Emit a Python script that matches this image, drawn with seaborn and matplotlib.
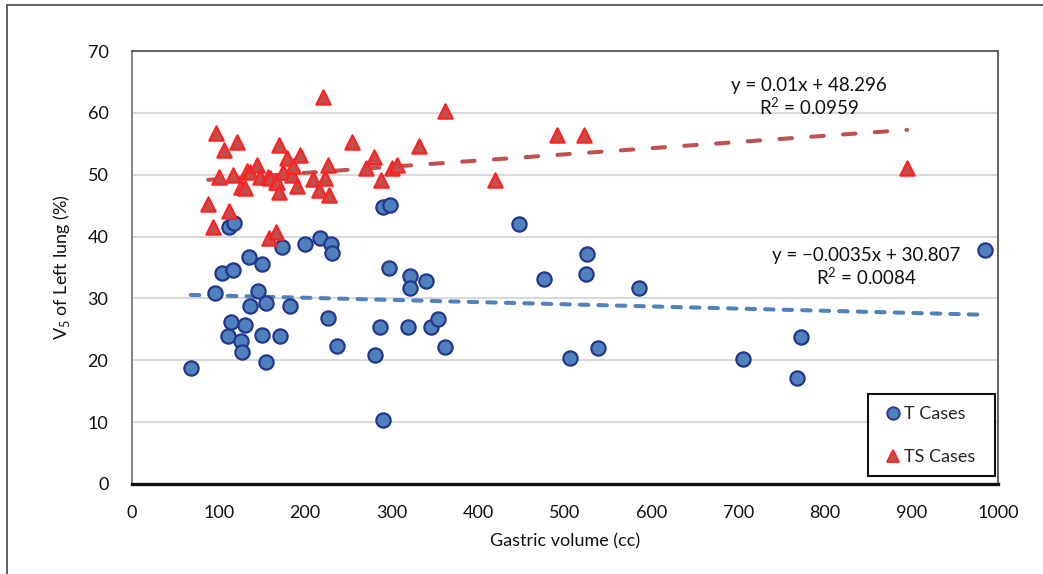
import numpy as np
import pandas as pd
import matplotlib
matplotlib.use("Agg")
import matplotlib.pyplot as plt
from matplotlib.lines import Line2D
from matplotlib.patches import Rectangle
import seaborn as sns

# ---------------- data ----------------
t_x = [68, 96, 104, 111, 112, 114, 117, 118, 126, 127, 131, 135, 136, 146, 150, 150,
       155, 155, 171, 173, 182, 200, 217, 226, 230, 231, 237, 281, 286, 290, 290, 297,
       298, 319, 321, 321, 340, 345, 353, 362, 447, 476, 506, 524, 525, 538, 585, 705,
       768, 773, 985]
t_y = [18.7, 30.9, 34.1, 23.9, 41.5, 26.2, 34.6, 42.2, 23.1, 21.3, 25.7, 36.7, 28.7,
       31.2, 35.5, 24.1, 29.2, 19.7, 23.9, 38.3, 28.7, 38.8, 39.8, 26.8, 38.8, 37.3,
       22.3, 20.8, 25.4, 44.8, 10.3, 34.9, 45.1, 25.4, 33.6, 31.7, 32.8, 25.4, 26.7,
       22.1, 42.0, 33.1, 20.4, 33.9, 37.2, 22.0, 31.7, 20.2, 17.1, 23.8, 37.9]

ts_x = [88, 94, 97, 100, 106, 112, 117, 121, 126, 130, 133, 136, 144, 148, 157, 158,
        159, 166, 166, 167, 170, 170, 174, 179, 185, 186, 190, 194, 209, 216, 221, 223,
        226, 228, 254, 270, 280, 287, 300, 306, 331, 362, 419, 491, 522, 895]
ts_y = [45.3, 41.5, 56.7, 49.6, 54.0, 44.1, 50.0, 55.3, 48.0, 47.8, 50.6, 50.4, 51.6,
        49.6, 49.6, 39.8, 49.5, 40.7, 48.8, 48.8, 54.8, 47.2, 50.4, 52.7, 50.0, 51.4,
        48.2, 53.2, 49.3, 47.5, 62.6, 49.5, 51.6, 46.7, 55.3, 51.1, 52.9, 49.1, 51.1,
        51.6, 54.6, 60.3, 49.1, 56.4, 56.4, 51.1]

series_names = ["T Cases", "TS Cases"]
trend_slope = [-0.0035, 0.01]
trend_intercept = [30.807, 48.296]
trend_r2 = ["0.0084", "0.0959"]
trend_eq = ["y = \u22120.0035x + 30.807", "y = 0.01x + 48.296"]

x_ticks = [0, 100, 200, 300, 400, 500, 600, 700, 800, 900, 1000]
y_ticks = [0, 10, 20, 30, 40, 50, 60, 70]

df = pd.DataFrame({
    "x": t_x + ts_x,
    "y": t_y + ts_y,
    "group": [series_names[0]] * len(t_x) + [series_names[1]] * len(ts_x),
})

# ---------------- style ----------------
sns.set_theme(style="white")
plt.rcParams["font.family"] = ["Lato", "DejaVu Sans"]
plt.rcParams["mathtext.fontset"] = "custom"
plt.rcParams["mathtext.rm"] = "Lato"

FS = 13
W, H = 1043, 574
fig = plt.figure(figsize=(W / 100, H / 100), dpi=100)
ax = fig.add_axes([132 / W, 1 - 484 / H, (998 - 132) / W, (484 - 51) / H])

fill_cols = {"T Cases": "#4F81BD", "TS Cases": "#C0504D"}
edge_cols = {"T Cases": "#23378F", "TS Cases": "#FF2121"}
markers = {"T Cases": "o", "TS Cases": "^"}
line_cols = ["#4F81BD", "#C0504D"]
dash_pats = [(2.1, 2.5), (3.1, 4.8)]

# trend lines (drawn under markers)
xs_sets = [t_x, ts_x]
for i in range(2):
    xr = np.array([min(xs_sets[i]), max(xs_sets[i])], dtype=float)
    yr = trend_slope[i] * xr + trend_intercept[i]
    ln, = ax.plot(xr, yr, color=line_cols[i], lw=2.9, zorder=2,
                  dash_capstyle="round", solid_capstyle="round")
    ln.set_dashes(dash_pats[i])

for name in series_names:
    sub = df[df["group"] == name]
    sns.scatterplot(data=sub, x="x", y="y", marker=markers[name], s=105,
                    color=fill_cols[name], edgecolor=edge_cols[name],
                    linewidth=1.6, ax=ax, zorder=3, legend=False)

ax.set_xlim(0, 1000)
ax.set_ylim(0, 70)
ax.set_xticks(x_ticks)
ax.set_yticks(y_ticks)
ax.tick_params(axis="both", length=0, labelsize=FS, colors="#111111")
ax.tick_params(axis="x", pad=15)
ax.tick_params(axis="y", pad=17)
ax.grid(axis="y", color="#D9D9D9", lw=1.5, zorder=0)
ax.set_axisbelow(True)
for s in ["top", "right", "left"]:
    ax.spines[s].set_color("#555555")
    ax.spines[s].set_linewidth(1.3)
ax.spines["left"].set_color("#777777")
ax.spines["bottom"].set_color("#111111")
ax.spines["bottom"].set_linewidth(2.4)

ax.set_xlabel("Gastric volume (cc)", fontsize=FS, labelpad=9, color="#111111")
ax.set_ylabel(r"V$_5$ of Left lung (%)", fontsize=FS, labelpad=11, color="#111111")

# equation labels
eq_pos = [(866, 255, 277), (809, 86, 107)]
for i in range(2):
    px, py1, py2 = eq_pos[i]
    fig.text(px / W, 1 - py1 / H, trend_eq[i], ha="center", va="center",
             fontsize=FS + 0.5, color="#111111")
    fig.text(px / W, 1 - py2 / H, r"R$^2$ = " + trend_r2[i], ha="center",
             va="center", fontsize=FS + 0.5, color="#111111")

# legend
fig.add_artist(Rectangle((868 / W, 1 - 476 / H), (995 - 868) / W, (476 - 394) / H,
                         transform=fig.transFigure, facecolor="white",
                         edgecolor="#111111", lw=1.5, zorder=9))
handles = [Line2D([], [], ls="none", marker=markers[n], markersize=9,
                  markerfacecolor=fill_cols[n], markeredgecolor=edge_cols[n],
                  markeredgewidth=1.3) for n in series_names]
leg = fig.legend(handles, series_names, loc="upper left",
                 bbox_to_anchor=(885 / W, 1 - 406 / H), bbox_transform=fig.transFigure,
                 fontsize=FS, frameon=False, handlelength=0.9,
                 handletextpad=0.15, labelspacing=1.5, borderpad=0,
                 borderaxespad=0)
leg.set_zorder(10)

# outer chart-area border (left and top)
fig.add_artist(Line2D([7 / W, 7 / W], [0, 1 - 5 / H], transform=fig.transFigure,
                      color="#555555", lw=1.3))
fig.add_artist(Line2D([7 / W, 1], [1 - 5 / H, 1 - 5 / H], transform=fig.transFigure,
                      color="#555555", lw=1.3))

fig.savefig("out.png", dpi=100, facecolor="white")
